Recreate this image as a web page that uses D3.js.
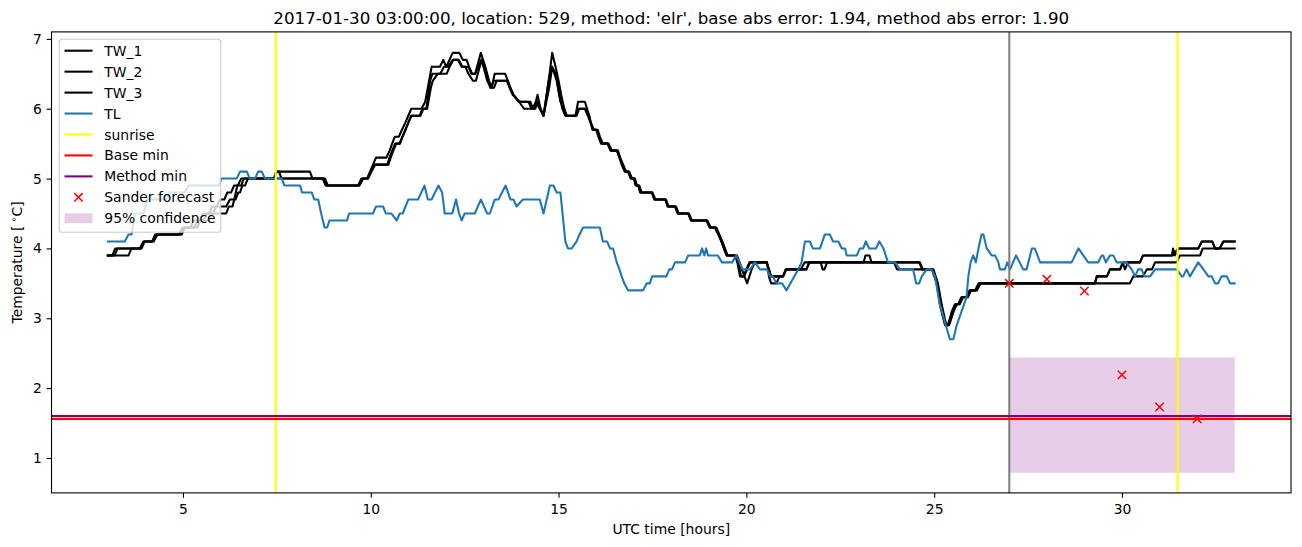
<!DOCTYPE html>
<html>
<head>
<meta charset="utf-8">
<script src="https://cdn.jsdelivr.net/npm/d3@7"></script>
<style>
  html, body { margin: 0; padding: 0; background: #fff; }
  svg { display: block; font-family: "DejaVu Sans", sans-serif; }
</style>
</head>
<body>
<svg id="chart" width="1302" height="547"></svg>
<script>
// ---------------- data ----------------
const titleText = "2017-01-30 03:00:00, location: 529, method: 'elr', base abs error: 1.94, method abs error: 1.90";
const seriesNames = ["TW_1", "TW_2", "TW_3", "TL"];

const tw1 = [[3.0,3.9],[3.12,3.9],[3.2,4.0],[3.85,4.0],[3.95,4.1],[4.2,4.1],[4.28,4.2],[4.9,4.2],[4.98,4.3],[5.2,4.3],[5.28,4.4],[5.45,4.4],[5.53,4.5],[5.7,4.5],[5.78,4.6],[5.9,4.6],[5.98,4.7],[6.1,4.7],[6.18,4.8],[6.28,4.8],[6.36,4.9],[6.46,4.9],[6.55,5.0],[7.42,5.0],[7.5,5.1],[8.38,5.1],[8.45,5.0],[8.72,5.0],[8.8,4.9],[9.66,4.9],[9.75,5.0],[9.9,5.0],[9.98,5.1],[10.06,5.2],[10.14,5.3],[10.42,5.3],[10.5,5.4],[10.57,5.5],[10.64,5.6],[10.75,5.6],[10.83,5.7],[10.92,5.8],[11.0,5.9],[11.08,6.0],[11.35,6.0],[11.45,6.1],[11.62,6.6],[11.84,6.6],[11.93,6.7],[12.01,6.6],[12.18,6.8],[12.36,6.8],[12.45,6.7],[12.55,6.7],[12.62,6.6],[12.7,6.5],[12.78,6.5],[12.93,6.8],[13.05,6.6],[13.15,6.4],[13.22,6.3],[13.3,6.5],[13.58,6.5],[13.65,6.4],[13.7,6.3],[13.78,6.2],[13.95,6.1],[14.2,6.1],[14.28,6.0],[14.35,6.0],[14.44,6.2],[14.52,6.0],[14.6,5.9],[14.76,6.5],[14.83,6.8],[14.92,6.6],[15.0,6.4],[15.07,6.2],[15.15,6.0],[15.22,5.9],[15.45,5.9],[15.52,6.1],[15.7,6.1],[15.76,6.0],[15.82,5.9],[15.9,5.7],[16.0,5.7],[16.06,5.6],[16.13,5.5],[16.3,5.5],[16.38,5.4],[16.55,5.4],[16.62,5.3],[16.68,5.2],[16.76,5.1],[16.85,5.1],[16.92,5.0],[17.0,5.0],[17.05,4.9],[17.12,4.9],[17.17,4.8],[17.48,4.8],[17.55,4.7],[17.84,4.7],[17.9,4.6],[18.1,4.6],[18.17,4.5],[18.45,4.5],[18.52,4.4],[18.94,4.4],[19.02,4.3],[19.16,4.3],[19.25,4.2],[19.33,4.1],[19.4,4.0],[19.47,3.9],[19.7,3.9],[19.76,3.8],[19.83,3.6],[19.92,3.6],[20.0,3.7],[20.08,3.8],[20.54,3.8],[20.6,3.7],[20.65,3.6],[20.98,3.6],[21.05,3.7],[21.6,3.7],[21.67,3.8],[23.93,3.8],[24.01,3.7],[24.94,3.7],[25.07,3.5],[25.15,3.2],[25.24,3.0],[25.29,2.9],[25.36,2.9],[25.42,3.0],[25.47,3.1],[25.55,3.2],[25.64,3.2],[25.72,3.3],[25.86,3.3],[25.94,3.4],[26.09,3.4],[26.18,3.5],[29.28,3.5],[29.33,3.6],[29.6,3.6],[29.68,3.7],[29.95,3.7],[30.02,3.8],[30.08,3.7],[30.16,3.8],[30.48,3.8],[30.56,3.9],[31.33,3.9],[31.36,4.0],[31.41,3.9],[31.5,4.0],[32.03,4.0],[32.13,4.1],[32.4,4.1],[32.48,4.0],[32.6,4.0],[32.7,4.1],[33.0,4.1]];

const tw2 = [[3.0,3.9],[3.18,3.9],[3.26,4.0],[3.9,4.0],[3.98,4.1],[4.22,4.1],[4.32,4.2],[4.97,4.2],[5.05,4.3],[5.3,4.3],[5.38,4.4],[5.55,4.4],[5.63,4.5],[5.8,4.5],[5.88,4.6],[6.15,4.6],[6.25,4.7],[6.4,4.7],[6.47,4.8],[6.52,4.8],[6.58,4.9],[6.65,4.9],[6.73,5.0],[7.42,5.0],[7.48,5.1],[7.56,5.1],[7.62,5.0],[8.78,5.0],[8.86,4.9],[9.7,4.9],[9.8,5.0],[9.93,5.0],[10.02,5.1],[10.12,5.2],[10.47,5.2],[10.53,5.3],[10.6,5.4],[10.68,5.5],[10.78,5.5],[10.85,5.6],[10.93,5.7],[11.0,5.8],[11.08,5.9],[11.3,5.9],[11.38,6.0],[11.5,6.0],[11.6,6.3],[11.65,6.4],[11.78,6.5],[12.02,6.5],[12.1,6.6],[12.2,6.7],[12.32,6.7],[12.42,6.6],[12.52,6.6],[12.6,6.5],[12.72,6.4],[12.8,6.4],[12.95,6.7],[13.1,6.4],[13.2,6.3],[13.28,6.3],[13.35,6.4],[13.65,6.4],[13.72,6.3],[13.8,6.2],[13.95,6.1],[14.08,6.0],[14.3,6.0],[14.4,6.1],[14.5,6.0],[14.6,5.9],[14.75,6.3],[14.83,6.6],[14.95,6.4],[15.05,6.1],[15.15,6.0],[15.2,5.9],[15.48,5.9],[15.55,6.0],[15.72,6.0],[15.8,5.9],[15.86,5.8],[15.94,5.7],[16.04,5.7],[16.1,5.6],[16.18,5.5],[16.33,5.5],[16.42,5.4],[16.58,5.4],[16.64,5.3],[16.72,5.2],[16.8,5.1],[16.88,5.1],[16.96,5.0],[17.03,5.0],[17.09,4.9],[17.15,4.9],[17.21,4.8],[17.5,4.8],[17.58,4.7],[17.86,4.7],[17.93,4.6],[18.13,4.6],[18.2,4.5],[18.47,4.5],[18.55,4.4],[18.96,4.4],[19.05,4.3],[19.2,4.3],[19.28,4.2],[19.36,4.1],[19.43,4.0],[19.5,3.9],[19.75,3.9],[19.82,3.8],[19.88,3.7],[20.02,3.5],[20.08,3.6],[20.14,3.7],[20.23,3.8],[20.55,3.8],[20.6,3.6],[20.66,3.5],[20.8,3.5],[20.88,3.6],[20.98,3.6],[21.07,3.7],[21.45,3.7],[21.55,3.8],[24.6,3.8],[24.68,3.7],[24.98,3.7],[25.1,3.5],[25.2,3.2],[25.28,3.0],[25.33,2.9],[25.4,2.9],[25.46,3.0],[25.52,3.1],[25.6,3.2],[25.68,3.2],[25.77,3.3],[25.9,3.3],[25.98,3.4],[26.14,3.4],[26.24,3.5],[30.21,3.5],[30.3,3.6],[30.56,3.6],[30.66,3.7],[30.8,3.7],[30.88,3.8],[31.46,3.8],[31.54,3.9],[32.08,3.9],[32.15,4.0],[33.0,4.0]];

const tw3 = [[3.0,3.9],[3.55,3.9],[3.63,4.0],[3.88,4.0],[3.96,4.1],[4.18,4.1],[4.26,4.2],[4.95,4.2],[5.03,4.3],[5.38,4.3],[5.46,4.4],[5.68,4.4],[5.76,4.5],[6.15,4.5],[6.22,4.6],[6.32,4.6],[6.45,4.9],[6.55,4.9],[6.62,5.0],[8.75,5.0],[8.83,4.9],[9.68,4.9],[9.78,5.0],[9.92,5.0],[10.0,5.1],[10.1,5.2],[10.44,5.2],[10.5,5.3],[10.57,5.4],[10.65,5.5],[10.76,5.5],[10.84,5.6],[10.92,5.7],[11.0,5.8],[11.08,5.9],[11.32,5.9],[11.4,6.0],[11.48,6.0],[11.58,6.4],[11.64,6.5],[11.85,6.5],[11.95,6.6],[12.05,6.6],[12.18,6.7],[12.34,6.7],[12.44,6.6],[12.6,6.6],[12.68,6.5],[12.78,6.5],[12.94,6.7],[13.08,6.5],[13.18,6.3],[13.28,6.4],[13.62,6.4],[13.7,6.3],[13.79,6.2],[13.95,6.1],[14.25,6.1],[14.32,6.0],[14.38,6.0],[14.45,6.1],[14.52,6.0],[14.6,5.9],[14.74,6.4],[14.82,6.6],[14.93,6.5],[15.02,6.2],[15.1,6.0],[15.18,5.9],[15.46,5.9],[15.53,6.0],[15.7,6.0],[15.78,5.9],[15.85,5.8],[15.92,5.7],[16.02,5.7],[16.08,5.6],[16.16,5.5],[16.32,5.5],[16.4,5.4],[16.56,5.4],[16.63,5.3],[16.7,5.2],[16.78,5.1],[16.86,5.1],[16.94,5.0],[17.02,5.0],[17.07,4.9],[17.13,4.9],[17.19,4.8],[17.49,4.8],[17.56,4.7],[17.85,4.7],[17.91,4.6],[18.11,4.6],[18.18,4.5],[18.46,4.5],[18.53,4.4],[18.95,4.4],[19.03,4.3],[19.18,4.3],[19.26,4.2],[19.34,4.1],[19.41,4.0],[19.48,3.9],[19.72,3.9],[19.78,3.8],[19.86,3.6],[19.94,3.6],[20.02,3.7],[20.1,3.8],[20.54,3.8],[20.6,3.7],[20.66,3.6],[20.97,3.6],[21.05,3.7],[21.6,3.7],[21.68,3.8],[21.98,3.8],[22.03,3.7],[22.08,3.7],[22.15,3.8],[23.12,3.8],[23.17,3.9],[23.28,3.9],[23.33,3.8],[24.62,3.8],[24.7,3.7],[24.95,3.7],[25.08,3.5],[25.17,3.2],[25.26,3.0],[25.31,2.9],[25.38,2.9],[25.44,3.0],[25.5,3.1],[25.57,3.2],[25.66,3.2],[25.74,3.3],[25.88,3.3],[25.96,3.4],[26.11,3.4],[26.21,3.5],[29.28,3.5],[29.33,3.6],[29.6,3.6],[29.68,3.7],[29.95,3.7],[30.03,3.8],[30.48,3.8],[30.56,3.9],[31.35,3.9],[31.5,4.0],[32.03,4.0],[32.13,4.1],[32.4,4.1],[32.48,4.0],[32.6,4.0],[32.7,4.1],[33.0,4.1]];

const tl = [[3.0,4.1],[3.45,4.1],[3.55,4.2],[3.63,4.2],[3.72,4.5],[3.95,4.5],[4.05,4.7],[4.55,4.7],[4.65,4.8],[5.05,4.8],[5.15,4.9],[5.95,4.9],[6.03,5.0],[6.43,5.0],[6.52,5.1],[6.7,5.1],[6.78,5.0],[6.92,5.0],[7.0,5.1],[7.1,5.1],[7.18,5.0],[7.63,5.0],[7.7,4.9],[8.12,4.9],[8.17,4.8],[8.43,4.8],[8.5,4.7],[8.6,4.7],[8.68,4.5],[8.77,4.3],[8.84,4.3],[8.9,4.4],[9.37,4.4],[9.42,4.5],[10.06,4.5],[10.14,4.6],[10.33,4.6],[10.4,4.5],[10.55,4.5],[10.69,4.4],[10.77,4.5],[10.85,4.5],[11.0,4.7],[11.26,4.7],[11.43,4.9],[11.52,4.7],[11.62,4.7],[11.8,4.9],[11.9,4.8],[11.97,4.5],[12.17,4.5],[12.27,4.7],[12.35,4.5],[12.42,4.4],[12.5,4.5],[12.77,4.5],[12.93,4.7],[13.1,4.5],[13.17,4.5],[13.3,4.7],[13.4,4.7],[13.59,4.9],[13.72,4.7],[13.8,4.7],[13.88,4.6],[14.05,4.7],[14.5,4.7],[14.6,4.5],[14.77,4.9],[14.86,4.9],[14.95,4.8],[15.05,4.8],[15.18,4.1],[15.25,4.0],[15.35,4.0],[15.48,4.1],[15.56,4.2],[15.65,4.3],[16.1,4.3],[16.18,4.1],[16.29,4.1],[16.37,4.0],[16.45,4.0],[16.55,3.8],[16.62,3.7],[16.68,3.6],[16.75,3.5],[16.85,3.4],[17.25,3.4],[17.35,3.5],[17.43,3.5],[17.49,3.6],[17.87,3.6],[17.95,3.7],[18.02,3.7],[18.1,3.8],[18.37,3.8],[18.45,3.9],[18.76,3.9],[18.82,4.0],[18.88,3.9],[18.93,4.0],[18.98,3.9],[19.24,3.9],[19.35,3.8],[19.62,3.8],[19.73,3.9],[19.9,3.7],[20.1,3.7],[20.23,3.8],[20.36,3.7],[20.55,3.7],[20.63,3.6],[20.7,3.6],[20.8,3.5],[20.95,3.5],[21.07,3.4],[21.38,3.7],[21.47,3.8],[21.56,4.1],[21.69,4.1],[21.77,4.0],[21.96,4.0],[22.09,4.2],[22.22,4.2],[22.31,4.1],[22.45,4.1],[22.54,4.0],[22.63,4.0],[22.67,3.9],[22.94,3.9],[23.02,4.0],[23.11,4.0],[23.18,4.1],[23.27,4.0],[23.45,4.0],[23.54,4.1],[23.65,4.0],[23.77,3.8],[23.96,3.8],[24.09,3.7],[24.44,3.7],[24.52,3.5],[24.6,3.5],[24.67,3.6],[24.8,3.7],[24.93,3.7],[25.02,3.6],[25.15,3.2],[25.31,2.9],[25.42,2.7],[25.51,2.7],[25.6,2.9],[25.73,3.1],[25.86,3.3],[25.91,3.6],[25.97,3.8],[26.04,3.9],[26.11,3.8],[26.18,4.0],[26.26,4.2],[26.31,4.2],[26.4,4.0],[26.53,3.9],[26.62,3.9],[26.71,3.8],[26.75,3.7],[26.88,3.7],[26.95,3.8],[27.02,3.7],[27.18,3.9],[27.37,3.7],[27.46,3.7],[27.6,4.0],[27.68,4.0],[27.82,3.8],[28.66,3.8],[28.84,4.0],[28.97,3.9],[29.1,3.8],[29.37,3.8],[29.46,3.9],[29.5,3.9],[29.57,3.8],[29.68,3.9],[29.77,3.9],[29.86,3.8],[30.12,3.8],[30.26,3.7],[30.35,3.6],[30.43,3.7],[30.52,3.7],[30.6,3.6],[30.75,3.6],[30.88,3.7],[31.46,3.7],[31.59,3.6],[31.63,3.6],[31.72,3.7],[31.81,3.6],[32.03,3.8],[32.17,3.7],[32.3,3.6],[32.39,3.6],[32.48,3.5],[32.56,3.5],[32.65,3.6],[32.79,3.6],[32.88,3.5],[33.0,3.5]];

const sunriseHours = [7.47, 31.48];
const forecastHour = 27;
const baseMin = 1.56;
const methodMin = 1.60;
const sanderHours = [27, 28, 29, 30, 31, 32];
const sanderValues = [3.50, 3.56, 3.39, 2.19, 1.73, 1.56];
const confHours = [27, 33];
const confLow = [0.79, 0.79];
const confHigh = [2.44, 2.44];

const xTicks = [5, 10, 15, 20, 25, 30];
const yTicks = [1, 2, 3, 4, 5, 6, 7];
const xDomain = [1.5, 34.5];
const yDomain = [0.5, 7.1];

const legendLabels = ["TW_1", "TW_2", "TW_3", "TL", "sunrise", "Base min", "Method min", "Sander forecast", "95% confidence"];

// ---------------- chart ----------------
const C = { tw: "#000000", tl: "#1f77b4", sun: "#ffff00", base: "#ff0000", method: "#800080", sander: "#ff0000", fc: "#808080" };
const LW = 2.08;
const FS = 13.9;

const svg = d3.select("#chart");
const m = { left: 51.5, right: 1291, top: 31.9, bottom: 492.9 };
const x = d3.scaleLinear().domain(xDomain).range([m.left, m.right]);
const y = d3.scaleLinear().domain(yDomain).range([m.bottom, m.top]);

svg.append("defs").append("clipPath").attr("id", "clip")
  .append("rect").attr("x", m.left).attr("y", m.top)
  .attr("width", m.right - m.left).attr("height", m.bottom - m.top);

const plot = svg.append("g").attr("clip-path", "url(#clip)");

// confidence band
const area = d3.area().x((d, i) => x(confHours[i])).y0((d, i) => y(confLow[i])).y1((d, i) => y(confHigh[i]));
plot.append("path").datum(confHours).attr("d", area)
  .attr("fill", "#800080").attr("fill-opacity", 0.2);

const line = d3.line().x(d => x(d[0])).y(d => y(d[1]));
[[tw1, C.tw], [tw2, C.tw], [tw3, C.tw], [tl, C.tl]].forEach(([data, col]) => {
  plot.append("path").datum(data).attr("d", line)
    .attr("fill", "none").attr("stroke", col).attr("stroke-width", LW)
    .attr("stroke-linejoin", "round").attr("stroke-linecap", "square");
});

// forecast time vertical
plot.append("line").attr("x1", x(forecastHour)).attr("x2", x(forecastHour))
  .attr("y1", m.top).attr("y2", m.bottom).attr("stroke", C.fc).attr("stroke-width", LW);

// sunrise
sunriseHours.forEach(h => {
  plot.append("line").attr("x1", x(h)).attr("x2", x(h)).attr("y1", m.top).attr("y2", m.bottom)
    .attr("stroke", C.sun).attr("stroke-width", LW);
});

// base / method min
[[baseMin, C.base], [methodMin, C.method]].forEach(([v, col]) => {
  plot.append("line").attr("x1", m.left).attr("x2", m.right).attr("y1", y(v)).attr("y2", y(v))
    .attr("stroke", col).attr("stroke-width", LW);
});

// sander markers
const ms = 4.2;
sanderHours.forEach((h, i) => {
  const cx = x(h), cy = y(sanderValues[i]);
  plot.append("path").attr("d", `M${cx-ms},${cy-ms}L${cx+ms},${cy+ms}M${cx-ms},${cy+ms}L${cx+ms},${cy-ms}`)
    .attr("stroke", C.sander).attr("stroke-width", 1.5).attr("fill", "none");
});

// axes
const xAxis = d3.axisBottom(x).tickValues(xTicks).tickSize(4.9).tickPadding(6.3).tickFormat(d3.format("d"));
const yAxis = d3.axisLeft(y).tickValues(yTicks).tickSize(4.9).tickPadding(4.8).tickFormat(d3.format("d"));
const gx = svg.append("g").attr("transform", `translate(0,${m.bottom})`).call(xAxis);
const gy = svg.append("g").attr("transform", `translate(${m.left},0)`).call(yAxis);
[gx, gy].forEach(g => {
  g.select(".domain").remove();
  g.selectAll(".tick line").attr("stroke", "#000").attr("stroke-width", 1.1);
  g.selectAll(".tick text").attr("fill", "#000").style("font-size", FS + "px").style("font-family", "DejaVu Sans");
});

// frame
svg.append("rect").attr("x", m.left).attr("y", m.top).attr("width", m.right - m.left).attr("height", m.bottom - m.top)
  .attr("fill", "none").attr("stroke", "#000").attr("stroke-width", 1.1);

// title and labels
svg.append("text").attr("x", (m.left + m.right) / 2).attr("y", 23.6).attr("text-anchor", "middle")
  .style("font-size", "16.7px").attr("fill", "#000").text(titleText);
svg.append("text").attr("x", (m.left + m.right) / 2).attr("y", 533.5).attr("text-anchor", "middle")
  .style("font-size", FS + "px").attr("fill", "#000").text("UTC time [hours]");
const yl = svg.append("text").attr("transform", `translate(22,${(m.top + m.bottom) / 2}) rotate(-90)`)
  .attr("text-anchor", "middle").style("font-size", FS + "px").attr("fill", "#000");
yl.append("tspan").text("Temperature [");
yl.append("tspan").attr("dy", -5).style("font-size", "9.7px").text(" \u2218");
yl.append("tspan").attr("dy", 5).text("C]");

// legend
const lg = svg.append("g");
const L = { x: 59.3, y: 39.3, w: 161.4, h: 193 };
lg.append("rect").attr("x", L.x).attr("y", L.y).attr("width", L.w).attr("height", L.h).attr("rx", 2.8)
  .attr("fill", "#fff").attr("fill-opacity", 0.8).attr("stroke", "#cccccc").attr("stroke-width", 1.1);
const rowY = i => 50.7 + i * 20.95;
const handleCols = [C.tw, C.tw, C.tw, C.tl, C.sun, C.base, C.method];
legendLabels.forEach((lab, i) => {
  const cy = rowY(i);
  if (i < 7) {
    lg.append("line").attr("x1", 64.5).attr("x2", 92.5).attr("y1", cy).attr("y2", cy)
      .attr("stroke", handleCols[i]).attr("stroke-width", LW);
  } else if (i === 7) {
    const cx = 78.5;
    lg.append("path").attr("d", `M${cx-ms},${cy-ms}L${cx+ms},${cy+ms}M${cx-ms},${cy+ms}L${cx+ms},${cy-ms}`)
      .attr("stroke", C.sander).attr("stroke-width", 1.5);
  } else {
    lg.append("rect").attr("x", 64.5).attr("y", cy - 4.9).attr("width", 28).attr("height", 9.8)
      .attr("fill", "#800080").attr("fill-opacity", 0.2);
  }
  lg.append("text").attr("x", 104.3).attr("y", cy + 5).style("font-size", FS + "px").attr("fill", "#000").text(lab);
});
</script>
</body>
</html>
